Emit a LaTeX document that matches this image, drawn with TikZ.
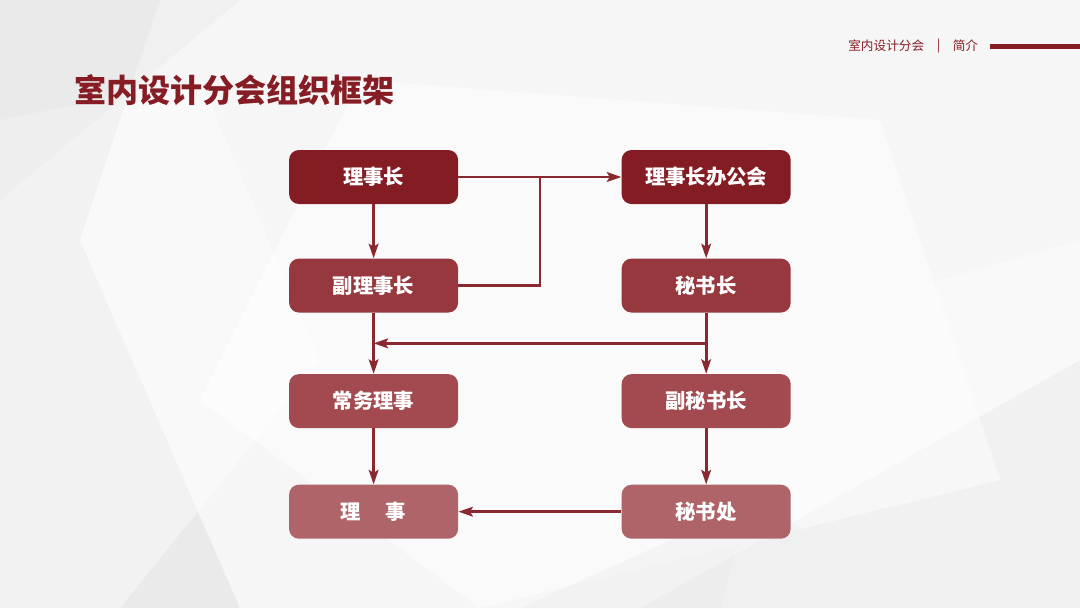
\documentclass[tikz,border=0pt]{standalone}
\usepackage{fontspec}
\usepackage{xcolor}
\usepackage{tikz}
\usetikzlibrary{arrows.meta,positioning,calc}
\newfontfamily\cjk{Noto Sans CJK SC}
\definecolor{titlered}{RGB}{134,28,36}
\definecolor{boxred1}{RGB}{132,28,36}
\definecolor{boxred2}{RGB}{150,56,62}
\definecolor{boxred3}{RGB}{162,74,79}
\definecolor{boxred4}{RGB}{174,100,104}
\definecolor{linered}{RGB}{138,40,48}
\definecolor{bggray}{RGB}{234,234,234}
\tikzset{
  orgbox/.style={
    rectangle,
    rounded corners=7pt,
    draw=none,
    minimum width=4.225cm,
    minimum height=1.35cm,
    align=center,
    text=white,
    font=\cjk\bfseries\fontsize{14.5}{16}\selectfont
  },
  orgbox1/.style={orgbox, fill=boxred1},
  orgbox2/.style={orgbox, fill=boxred2},
  orgbox3/.style={orgbox, fill=boxred3},
  orgbox4/.style={orgbox, fill=boxred4},
  facet/.style={fill=white, draw=none},
  flow/.style={-{Stealth[length=3.6mm,width=2.4mm,inset=0.7mm]}, line width=2.1pt, linered}
}
\begin{document}
\begin{tikzpicture}
% background
\fill[bggray] (0,0) rectangle (27,-15.2);
\useasboundingbox (0,0) rectangle (27,-15.2);
\fill[facet, opacity=0.6] (4,0) -- (27,0) -- (27,-9) -- (16,-15.2) -- (6,-15.2) -- (2,-6) -- cycle;
\fill[facet, opacity=0.5] (9,-2) -- (22,-3) -- (25,-12) -- (12,-15.2) -- (5,-10) -- cycle;
\fill[facet, opacity=0.4] (0,-3) -- (5,-2) -- (8,-9) -- (3,-15.2) -- (0,-15.2) -- cycle;
\fill[facet, opacity=0.35] (20,-8) -- (27,-6) -- (27,-15.2) -- (18,-15.2) -- cycle;
\fill[black!8, opacity=0.5] (0,0) -- (6,0) -- (0,-5) -- cycle;
\fill[black!6, opacity=0.5] (13,-15.2) -- (19,-12.5) -- (23,-15.2) -- cycle;

% header
\node[anchor=west, inner sep=0pt, text=titlered, font=\cjk\fontsize{9}{10}\selectfont] (hdr) at (21.2,-1.15) {室内设计分会};
\node[right=0.3cm of hdr, inner sep=0pt, text=titlered, font=\cjk\fontsize{9}{10}\selectfont] (bar) {|};
\node[right=0.3cm of bar, inner sep=0pt, text=titlered, font=\cjk\fontsize{9}{10}\selectfont] (intro) {简介};
\fill[titlered] (24.75,-1.1) rectangle (27,-1.22);

% title
\node[anchor=west, inner sep=0pt, text=titlered, font=\cjk\bfseries\fontsize{22.8}{26}\selectfont] (title) at (1.85,-2.25) {室内设计分会组织框架};

% boxes
\node[orgbox1] (chair) at (9.34,-4.425) {理事长};
\node[orgbox1, right=4.075cm of chair] (office) {理事长办公会};
\node[orgbox2, below=1.35cm of chair] (vice) {副理事长};
\node[orgbox2, below=1.35cm of office] (secgen) {秘书长};
\node[orgbox3, below=1.525cm of vice] (standing) {常务理事};
\node[orgbox3, below=1.525cm of secgen] (vicesec) {副秘书长};
\node[orgbox4, below=1.4cm of standing] (director) {理\hspace{1.2em}事};
\node[orgbox4, below=1.4cm of vicesec] (secoff) {秘书处};

% connectors
\coordinate (join) at (13.5,-4.425);
\coordinate (mid) at ($(vice.south)!0.5!(standing.north)$);
\draw[flow] (chair) -- (office);
\draw[line width=2.1pt, linered] (vice.east) -| (join);
\draw[flow] (chair) -- (vice);
\draw[flow] (vice) -- (standing);
\draw[flow] (office) -- (secgen);
\draw[flow] (secgen) -- (vicesec);
\draw[flow] (secgen.south |- mid) -- (mid);
\draw[flow] (standing) -- (director);
\draw[flow] (vicesec) -- (secoff);
\draw[flow] (secoff) -- (director);
\end{tikzpicture}
\end{document}
